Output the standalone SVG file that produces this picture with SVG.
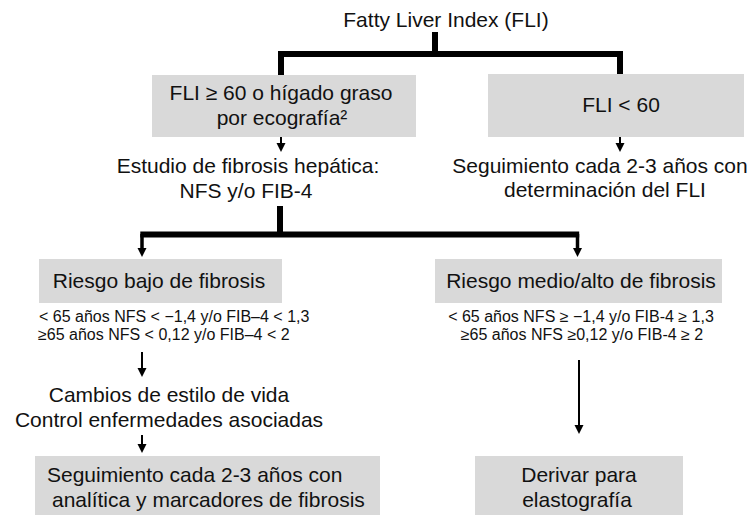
<svg xmlns="http://www.w3.org/2000/svg" width="754" height="516" viewBox="0 0 754 516">
  <defs>
    <marker id="ah" markerUnits="userSpaceOnUse" markerWidth="10" markerHeight="10" viewBox="0 0 10 10" refX="3" refY="5" orient="auto">
      <path d="M0,0.5 L9,5 L0,9.5 Z" fill="#000"/>
    </marker>
    <style>
      .box { fill: #d9d9d9; stroke: none; }
      .t { font-family: "Liberation Sans", Arial, Helvetica, sans-serif; font-size: 21px; fill: #111; }
      .s { font-family: "Liberation Sans", Arial, Helvetica, sans-serif; font-size: 16px; fill: #111; }
      .m { text-anchor: middle; }
      .bar { fill: none; stroke: #000; stroke-width: 6; stroke-linejoin: miter; stroke-linecap: butt; }
      .drop { fill: none; stroke: #000; stroke-width: 3.5; marker-end: url(#ah); }
      .arr { fill: none; stroke: #000; stroke-width: 2; marker-end: url(#ah); }
    </style>
  </defs>

  <g id="connectors">
    <path class="bar" d="M435,32 V54"/>
    <path class="bar" d="M281,75 V54 H620 V75"/>
    <path class="arr" d="M281,137 V146"/>
    <path class="arr" d="M620,137 V146"/>
    <path class="bar" d="M280,206 V234.5"/>
    <path class="bar" d="M140.3,234.5 H579.2"/>
    <path class="drop" d="M142,234 V251"/>
    <path class="drop" d="M577.5,234 V251"/>
    <path class="arr" d="M142,352 V371"/>
    <path class="arr" d="M142,435 V447"/>
    <path class="arr" d="M579,360 V428"/>
  </g>

  <g id="n-title">
    <text class="t m" x="446" y="27">Fatty Liver Index (FLI)</text>
  </g>

  <g id="n-fli-high">
    <rect class="box" x="152" y="75" width="264" height="62"/>
    <text class="t m" x="281" y="100">FLI ≥ 60 o hígado graso</text>
    <text class="t m" x="282" y="125">por ecografía²</text>
  </g>

  <g id="n-fli-low">
    <rect class="box" x="488" y="74" width="256" height="63"/>
    <text class="t m" x="621" y="112">FLI &lt; 60</text>
  </g>

  <g id="n-estudio">
    <text class="t m" x="248" y="173">Estudio de fibrosis hepática:</text>
    <text class="t m" x="246" y="198">NFS y/o FIB-4</text>
  </g>

  <g id="n-seguimiento-fli">
    <text class="t m" x="600" y="173">Seguimiento cada 2-3 años con</text>
    <text class="t m" x="605" y="197">determinación del FLI</text>
  </g>

  <g id="n-riesgo-bajo">
    <rect class="box" x="39" y="259" width="243" height="44"/>
    <text class="t m" x="159" y="288">Riesgo bajo de fibrosis</text>
    <text class="s" x="39" y="322">&lt; 65 años NFS &lt; −1,4 y/o FIB–4 &lt; 1,3</text>
    <text class="s" x="38" y="340">≥65 años NFS &lt; 0,12 y/o FIB–4 &lt; 2</text>
  </g>

  <g id="n-riesgo-alto">
    <rect class="box" x="435" y="259" width="287" height="44"/>
    <text class="t m" x="581" y="288">Riesgo medio/alto de fibrosis</text>
    <text class="s m" x="581" y="322">&lt; 65 años NFS ≥ −1,4 y/o FIB-4 ≥ 1,3</text>
    <text class="s m" x="582" y="340">≥65 años NFS ≥0,12 y/o FIB-4 ≥ 2</text>
  </g>

  <g id="n-cambios">
    <text class="t m" x="169" y="402">Cambios de estilo de vida</text>
    <text class="t m" x="169" y="427">Control enfermedades asociadas</text>
  </g>

  <g id="n-seguimiento-analitica">
    <rect class="box" x="35" y="456" width="345" height="59"/>
    <text class="t" x="47" y="482">Seguimiento cada 2-3 años con</text>
    <text class="t" x="52" y="507">analítica y marcadores de fibrosis</text>
  </g>

  <g id="n-derivar">
    <rect class="box" x="475" y="456" width="208" height="59"/>
    <text class="t m" x="579" y="482">Derivar para</text>
    <text class="t m" x="577" y="507">elastografía</text>
  </g>
</svg>
